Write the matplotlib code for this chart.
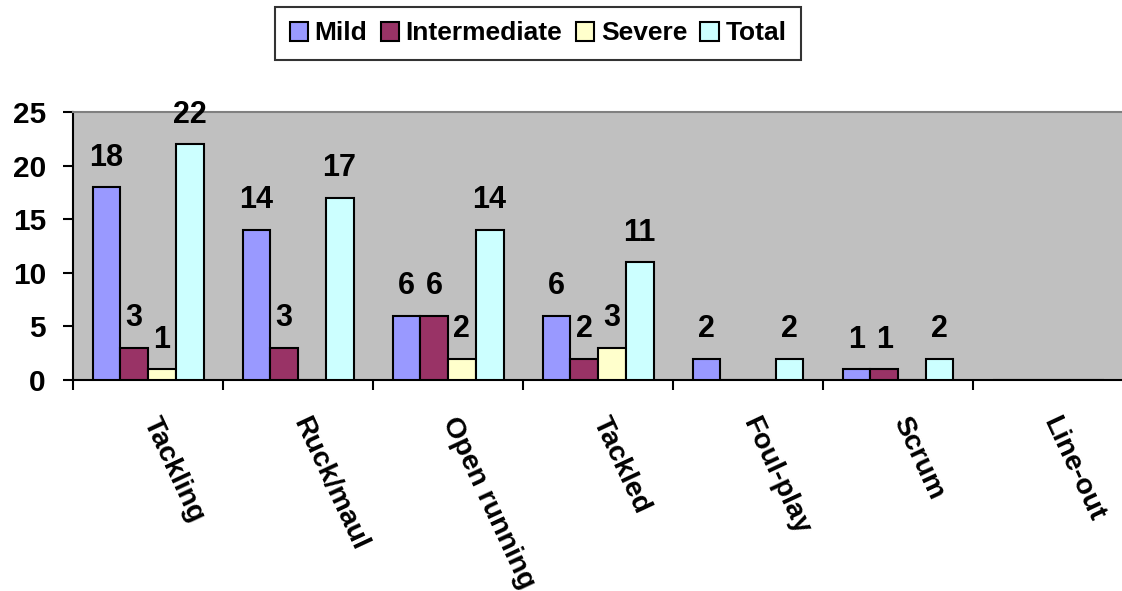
import matplotlib
matplotlib.use("Agg")
import matplotlib.pyplot as plt
import matplotlib.transforms as mtransforms
import numpy as np

categories = ["Tackling", "Ruck/maul", "Open running", "Tackled", "Foul-play", "Scrum", "Line-out"]
series_names = ["Mild", "Intermediate", "Severe", "Total"]
mild = [18, 14, 6, 6, 2, 1, 0]
intermediate = [3, 3, 6, 2, 0, 1, 0]
severe = [1, 0, 2, 3, 0, 0, 0]
total = [22, 17, 14, 11, 2, 2, 0]
colors = ["#9999FF", "#993366", "#FFFFCC", "#CCFFFF"]
y_ticks = [0, 5, 10, 15, 20, 25]

plt.rcParams["font.family"] = ["Liberation Sans", "DejaVu Sans"]
plt.rcParams["font.weight"] = "bold"

W, H = 1122, 591
fig = plt.figure(figsize=(W / 100, H / 100), dpi=100)
left_px, right_px, top_px, bottom_px = 73, 1123, 112, 380
ax = fig.add_axes([left_px / W, 1 - bottom_px / H,
                   (right_px - left_px) / W, (bottom_px - top_px) / H])
ax.set_facecolor("#C0C0C0")

x = np.arange(len(categories))
bw = 0.185
all_series = [mild, intermediate, severe, total]
handles = []
for k, (vals, col, name) in enumerate(zip(all_series, colors, series_names)):
    pos = x + (k - 1.5) * bw
    bars = ax.bar(pos, vals, width=bw, color=col, edgecolor="black",
                  linewidth=1.5, label=name, zorder=3)
    handles.append(bars)
    for p, v in zip(pos, vals):
        if v > 0:
            ax.annotate(str(v), (p, v), xytext=(0, 15.5), textcoords="offset points",
                        ha="center", va="baseline", fontsize=22, fontweight="bold")

ax.set_xlim(-0.5, len(categories) - 0.5)
ax.set_ylim(0, 25)
ax.set_yticks(y_ticks)
ax.set_yticklabels([str(t) for t in y_ticks], fontsize=21.5, fontweight="bold")
ax.tick_params(axis="y", direction="out", length=7.5, width=1.5, pad=12)

ax.set_xticks(np.arange(len(categories)) - 0.5)
ax.set_xticklabels([])
ax.tick_params(axis="x", direction="out", length=7.5, width=1.5)

for side in ["left", "bottom"]:
    ax.spines[side].set_color("black")
    ax.spines[side].set_linewidth(1.5)
ax.spines["top"].set_color("#808080")
ax.spines["top"].set_linewidth(1.5)
ax.spines["right"].set_visible(False)

trans = mtransforms.blended_transform_factory(ax.transData, ax.transAxes)
offset = mtransforms.ScaledTranslation(0.13, -0.33, fig.dpi_scale_trans)
for i, c in enumerate(categories):
    ax.text(i, 0, c, transform=trans + offset, rotation=-65,
            rotation_mode="anchor", ha="left", va="top",
            fontsize=20.5, fontweight="bold")

leg = fig.legend(handles=handles, labels=series_names, loc="center",
                 bbox_to_anchor=(538 / W, 1 - 33.5 / H), ncol=4,
                 prop={"size": 19, "weight": "bold"},
                 frameon=True, fancybox=False,
                 handlelength=0.7, handleheight=0.7, handletextpad=0.25,
                 columnspacing=0.5, borderpad=0.55, borderaxespad=0)
leg.get_frame().set_edgecolor("black")
leg.get_frame().set_linewidth(1.5)

fig.savefig("out.png", dpi=100)
